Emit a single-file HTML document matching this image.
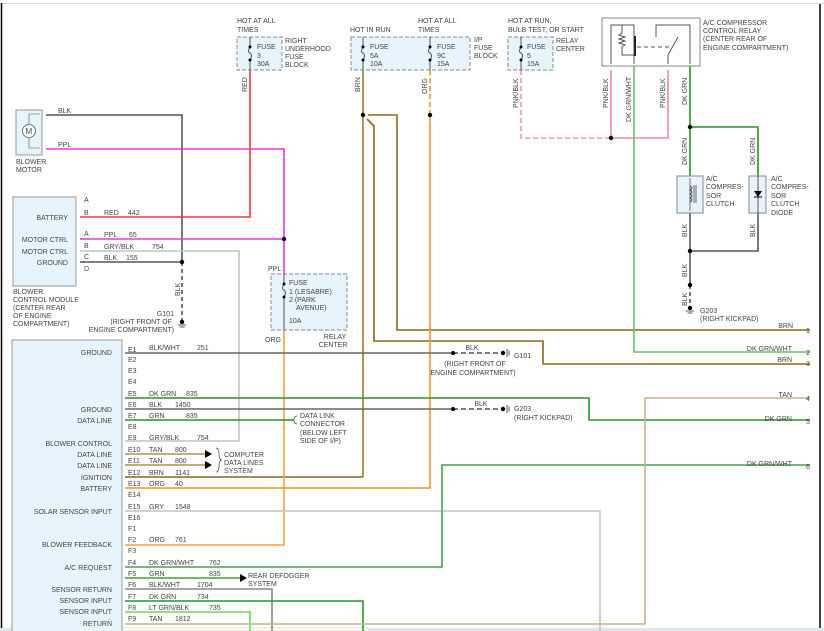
<!DOCTYPE html>
<html><head><meta charset="utf-8"><style>
html,body{margin:0;padding:0;background:#fff;}
svg{display:block;}
text{font-family:"Liberation Sans",sans-serif;font-size:7px;fill:#444;}
</style></head><body>
<svg width="824" height="631" viewBox="0 0 824 631" xmlns="http://www.w3.org/2000/svg">
<!-- frame -->
<line x1="0" y1="3.5" x2="824" y2="3.5" stroke="#ddd" stroke-width="1"/>
<line x1="1.5" y1="3" x2="1.5" y2="631" stroke="#000" stroke-width="1.5"/>
<line x1="820" y1="4" x2="820" y2="629" stroke="#000" stroke-width="1.5"/>
<rect x="0" y="628" width="824" height="3" fill="#dfe6ee"/>
<rect x="25" y="628" width="343" height="3" fill="#fff" stroke="#ccc" stroke-width="0.5"/>

<g fill="none" stroke-width="1.6">
<!-- blower motor wires -->
<polyline points="46,115 182,115 182,262" stroke="#555"/>
<line x1="182" y1="262" x2="182" y2="320" stroke="#555" stroke-dasharray="4,3"/>
<polyline points="46,149 284,149 284,274" stroke="#ee33ee"/>
<!-- BCM -->
<polyline points="80,217 250,217 250,70" stroke="#f03838"/>
<line x1="80" y1="239" x2="284" y2="239" stroke="#ee33ee"/>
<polyline points="80,251 239,251 239,441 125,441" stroke="#c4c4c4"/>
<line x1="80" y1="262" x2="182" y2="262" stroke="#555"/>
<!-- BRN -->
<line x1="363" y1="70" x2="363" y2="477" stroke="#9a7a30"/>
<polyline points="368,115 397,115 397,330 810,330" stroke="#8b6914"/>
<polyline points="367,119 374,126 374,341 543,341 543,364 810,364" stroke="#8b6914"/>
<line x1="125" y1="477" x2="363" y2="477" stroke="#8b6914"/>
<!-- ORG -->
<line x1="430" y1="70" x2="430" y2="115" stroke="#f7941d" stroke-dasharray="5,3"/>
<polyline points="430,115 430,488 125,488" stroke="#f7941d"/>
<polyline points="284,330 284,545 125,545" stroke="#f7a040"/>
<!-- pink -->
<polyline points="521,70 521,138 611,138" stroke="#f59aaa" stroke-dasharray="5,3"/>
<polyline points="611,70 611,138 668,138 668,70" stroke="#f08aa0"/>
<!-- DK GRN/WHT relay -->
<polyline points="634,66 634,352 810,352" stroke="#6cbf6c"/>
<!-- DK GRN relay -->
<line x1="690" y1="66" x2="690" y2="176" stroke="#229922"/>
<polyline points="690,127 758,127 758,176" stroke="#229922"/>
<line x1="690" y1="213" x2="690" y2="285" stroke="#555"/>
<polyline points="758,213 758,251 690,251" stroke="#555"/>
<line x1="690" y1="285" x2="690" y2="306" stroke="#555" stroke-dasharray="4,3"/>
<!-- E1 -->
<line x1="125" y1="353" x2="453" y2="353" stroke="#666"/>
<line x1="453" y1="353" x2="503" y2="353" stroke="#555" stroke-dasharray="5,3"/>
<!-- E5 -->
<polyline points="125,398 589,398 589,420 810,420" stroke="#229922"/>
<!-- E6 -->
<line x1="125" y1="409" x2="453" y2="409" stroke="#666"/>
<line x1="453" y1="409" x2="503" y2="409" stroke="#555" stroke-dasharray="5,3"/>
<!-- E7 -->
<line x1="125" y1="420" x2="294" y2="420" stroke="#229922"/>
<!-- E10 E11 -->
<line x1="125" y1="454" x2="205" y2="454" stroke="#a8905a"/>
<line x1="125" y1="465" x2="205" y2="465" stroke="#a8905a"/>
<!-- E15 -->
<polyline points="125,511 600,511 600,631" stroke="#c4c4c4"/>
<!-- F4 -->
<polyline points="125,567 442,567 442,465 810,465" stroke="#4aa04a"/>
<!-- F5 -->
<line x1="125" y1="578" x2="240" y2="578" stroke="#33aa33"/>
<!-- F6 -->
<polyline points="125,589 272,589 272,631" stroke="#888"/>
<!-- F7 -->
<polyline points="125,601 363,601 363,631" stroke="#229922"/>
<!-- F8 -->
<polyline points="125,612 250,612 250,631" stroke="#66dd55"/>
<!-- F9 -->
<polyline points="125,624 645,624 645,398 810,398" stroke="#c8b48a"/>
</g>

<!-- arrows -->
<polygon points="205,450 212,454 205,458" fill="#000"/>
<polygon points="205,461 212,465 205,469" fill="#000"/>
<polygon points="240,574 247,578 240,582" fill="#000"/>
<path d="M216,448 q3,0 3,6 q0,6 3,6 q-3,0 -3,6 q0,6 -3,6" fill="none" stroke="#444" stroke-width="0.7"/>
<path d="M297,416 q-3,0 -3,4 q0,4 3,4" fill="none" stroke="#444" stroke-width="0.7"/>

<!-- junction dots -->
<g fill="#000">
<circle cx="284" cy="239" r="2.2"/><circle cx="182" cy="262" r="2.2"/>
<circle cx="363" cy="115" r="2.2"/><circle cx="430" cy="115" r="2.2"/>
<circle cx="611" cy="138" r="2.2"/><circle cx="690" cy="127" r="2.2"/>
<circle cx="690" cy="251" r="2.2"/><circle cx="690" cy="285" r="2.2"/>
<circle cx="453" cy="353" r="2"/><circle cx="503" cy="353" r="2.2"/>
<circle cx="453" cy="409" r="2"/><circle cx="503" cy="409" r="2.2"/>
<circle cx="182" cy="322" r="2.2"/><circle cx="690" cy="308" r="2.2"/>
</g>
<!-- ground symbols -->
<g stroke="#333" stroke-width="0.8">
<line x1="178" y1="325" x2="186" y2="325"/><line x1="179.5" y1="327" x2="184.5" y2="327"/>
<line x1="686" y1="311" x2="694" y2="311"/><line x1="687.5" y1="313" x2="692.5" y2="313"/>
<line x1="507" y1="349" x2="507" y2="357"/><line x1="509" y1="350.5" x2="509" y2="355.5"/>
<line x1="507" y1="405" x2="507" y2="413"/><line x1="509" y1="406.5" x2="509" y2="411.5"/>
</g>

<!-- boxes -->
<rect x="16" y="110" width="26" height="45" fill="#e8f4fc" stroke="#999"/>
<circle cx="29" cy="131" r="6.5" fill="#fff" stroke="#555" stroke-width="0.8"/>
<text x="25.5" y="134" style="font-size:8px">M</text>
<polyline points="29,124 29,114 40,114" fill="none" stroke="#555" stroke-width="0.6"/>
<polyline points="29,138 29,148 40,148" fill="none" stroke="#555" stroke-width="0.6"/>
<rect x="13" y="197" width="63" height="89" fill="#e8f4fc" stroke="#999"/>
<rect x="12" y="340" width="110" height="292" fill="#e8f4fc" stroke="#999"/>
<rect x="237" y="37" width="45" height="33" fill="#e8f4fc" stroke="#888" stroke-dasharray="4,2"/>
<rect x="351" y="37" width="119" height="33" fill="#e8f4fc" stroke="#888" stroke-dasharray="4,2"/>
<rect x="508" y="37" width="45" height="33" fill="#e8f4fc" stroke="#888" stroke-dasharray="4,2"/>
<rect x="271" y="274" width="76" height="56" fill="#e8f4fc" stroke="#888" stroke-dasharray="4,2"/>
<rect x="602" y="18" width="98" height="48" fill="#fff" stroke="#888"/>
<rect x="677" y="176" width="26" height="37" fill="#e8f4fc" stroke="#888"/>
<rect x="749" y="176" width="17" height="37" fill="#e8f4fc" stroke="#888"/>
<line x1="758" y1="176" x2="758" y2="213" stroke="#333" stroke-width="0.8"/>
<polygon points="754,191 762,191 758,197" fill="#000"/><line x1="754" y1="197" x2="762" y2="197" stroke="#000"/>
<line x1="690" y1="178" x2="690" y2="211" stroke="#555" stroke-width="0.8"/>
<path d="M690,186 q4,2 0,4 q4,2 0,4 q4,2 0,4 q4,2 0,4" fill="none" stroke="#333" stroke-width="0.8"/>
<line x1="694" y1="185" x2="694" y2="203" stroke="#333" stroke-width="0.7"/>
<line x1="696" y1="185" x2="696" y2="203" stroke="#333" stroke-width="0.7"/>

<!-- fuse internals -->
<g stroke="#555" stroke-width="1" fill="none">
<line x1="250" y1="37" x2="250" y2="47"/><path d="M250,47 q-3,5 0,6 q3,2 0,7"/><line x1="250" y1="60" x2="250" y2="70"/>
<line x1="363" y1="37" x2="363" y2="47"/><path d="M363,47 q-3,5 0,6 q3,2 0,7"/><line x1="363" y1="60" x2="363" y2="70"/>
<line x1="430" y1="37" x2="430" y2="47"/><path d="M430,47 q-3,5 0,6 q3,2 0,7"/><line x1="430" y1="60" x2="430" y2="70"/>
<line x1="521" y1="37" x2="521" y2="47"/><path d="M521,47 q-3,5 0,6 q3,2 0,7"/><line x1="521" y1="60" x2="521" y2="70"/>
<line x1="284" y1="274" x2="284" y2="284"/><path d="M284,284 q-3,5 0,6 q3,2 0,7"/><line x1="284" y1="297" x2="284" y2="330"/>
<!-- relay internals -->
<polyline points="611,64 611,25 634,25 634,64"/>
<path d="M622,25 v8 l-3,2 6,2 -6,2 6,2 -6,2 6,2 -3,2 v8 h12"/>
<line x1="635" y1="36" x2="635" y2="56" stroke="#222" stroke-width="2"/>
<line x1="637" y1="47" x2="672" y2="47" stroke-dasharray="4,3"/>
<polyline points="668,64 668,55 678,37"/>
<polyline points="656,37 656,25 690,25 690,64"/>
</g>
<g fill="#000">
<circle cx="250" cy="47" r="1.5"/><circle cx="250" cy="60" r="1.5"/>
<circle cx="363" cy="47" r="1.5"/><circle cx="363" cy="60" r="1.5"/>
<circle cx="430" cy="47" r="1.5"/><circle cx="430" cy="60" r="1.5"/>
<circle cx="521" cy="47" r="1.5"/><circle cx="521" cy="60" r="1.5"/>
<circle cx="284" cy="284" r="1.5"/><circle cx="284" cy="297" r="1.5"/>
</g>

<!-- texts -->
<text x="58" y="113">BLK</text><text x="58" y="147">PPL</text>
<text x="16" y="164">BLOWER</text><text x="16" y="172">MOTOR</text>
<text x="84" y="202">A</text><text x="84" y="215">B</text><text x="84" y="236">A</text><text x="84" y="248">B</text><text x="84" y="259">C</text><text x="84" y="271">D</text>
<text x="68" y="220" text-anchor="end">BATTERY</text>
<text x="68" y="242" text-anchor="end">MOTOR CTRL</text>
<text x="68" y="254" text-anchor="end">MOTOR CTRL</text>
<text x="68" y="265" text-anchor="end">GROUND</text>
<text x="104" y="215">RED</text><text x="128" y="215">442</text>
<text x="104" y="237">PPL</text><text x="129" y="237">65</text>
<text x="104" y="249">GRY/BLK</text><text x="152" y="249">754</text>
<text x="104" y="260">BLK</text><text x="126" y="260">155</text>
<text x="13" y="294">BLOWER</text><text x="13" y="302">CONTROL MODULE</text><text x="13" y="310">(CENTER REAR</text><text x="13" y="318">OF ENGINE</text><text x="13" y="326">COMPARTMENT)</text>
<text x="174" y="316" text-anchor="end">G101</text><text x="172" y="324" text-anchor="end">(RIGHT FRONT OF</text><text x="174" y="332" text-anchor="end">ENGINE COMPARTMENT)</text>
<text transform="translate(180,296) rotate(-90)">BLK</text>
<text x="237" y="23">HOT AT ALL</text><text x="237" y="32">TIMES</text>
<text x="257" y="49">FUSE</text><text x="257" y="58">3</text><text x="257" y="66">30A</text>
<text x="285" y="43">RIGHT</text><text x="285" y="51">UNDERHOOD</text><text x="285" y="59">FUSE</text><text x="285" y="67">BLOCK</text>
<text transform="translate(247,92) rotate(-90)">RED</text>
<text x="350" y="32">HOT IN RUN</text>
<text x="418" y="23">HOT AT ALL</text><text x="418" y="32">TIMES</text>
<text x="370" y="49">FUSE</text><text x="370" y="58">5A</text><text x="370" y="66">10A</text>
<text x="437" y="49">FUSE</text><text x="437" y="58">9C</text><text x="437" y="66">15A</text>
<text x="474" y="42">I/P</text><text x="474" y="50">FUSE</text><text x="474" y="58">BLOCK</text>
<text transform="translate(360,92) rotate(-90)">BRN</text>
<text transform="translate(427,94) rotate(-90)">ORG</text>
<text x="508" y="23">HOT AT RUN,</text><text x="508" y="32">BULB TEST, OR START</text>
<text x="527" y="49">FUSE</text><text x="527" y="58">5</text><text x="527" y="66">15A</text>
<text x="556" y="43">RELAY</text><text x="556" y="51">CENTER</text>
<text transform="translate(518,108) rotate(-90)">PNK/BLK</text>
<text x="703" y="25">A/C COMPRESSOR</text><text x="703" y="33">CONTROL RELAY</text><text x="703" y="41">(CENTER REAR OF</text><text x="703" y="50">ENGINE COMPARTMENT)</text>
<text transform="translate(608,108) rotate(-90)">PNK/BLK</text>
<text transform="translate(631,122) rotate(-90)">DK GRN/WHT</text>
<text transform="translate(665,108) rotate(-90)">PNK/BLK</text>
<text transform="translate(687,105) rotate(-90)">DK GRN</text>
<text transform="translate(687,165) rotate(-90)">DK GRN</text>
<text transform="translate(755,165) rotate(-90)">DK GRN</text>
<text x="706" y="181">A/C</text><text x="706" y="189">COMPRES-</text><text x="706" y="198">SOR</text><text x="706" y="206">CLUTCH</text>
<text x="771" y="181">A/C</text><text x="771" y="189">COMPRES-</text><text x="771" y="198">SOR</text><text x="771" y="206">CLUTCH</text><text x="771" y="215">DIODE</text>
<text transform="translate(687,237) rotate(-90)">BLK</text>
<text transform="translate(755,237) rotate(-90)">BLK</text>
<text transform="translate(687,277) rotate(-90)">BLK</text>
<text transform="translate(687,306) rotate(-90)">BLK</text>
<text x="700" y="313">G203</text><text x="700" y="321">(RIGHT KICKPAD)</text>
<text x="268" y="271">PPL</text>
<text x="289" y="285">FUSE</text><text x="289" y="294">1 (LESABRE)</text><text x="289" y="302">2 (PARK</text><text x="296" y="310">AVENUE)</text><text x="289" y="323">10A</text>
<text x="265" y="342">ORG</text>
<text x="335" y="339" text-anchor="middle">RELAY</text><text x="333" y="347" text-anchor="middle">CENTER</text>
<!-- right labels -->
<text x="791" y="328" text-anchor="end" dx="2">BRN</text><text x="806" y="333">1</text>
<text x="792" y="351" text-anchor="end">DK GRN/WHT</text><text x="806" y="355">2</text>
<text x="792" y="362" text-anchor="end">BRN</text><text x="806" y="366">3</text>
<text x="792" y="397" text-anchor="end">TAN</text><text x="806" y="401">4</text>
<text x="792" y="421" text-anchor="end">DK GRN</text><text x="806" y="424">5</text>
<text x="792" y="466" text-anchor="end">DK GRN/WHT</text><text x="806" y="469">6</text>
<!-- grounds right -->
<text x="472" y="350" text-anchor="middle">BLK</text>
<text x="514" y="358">G101</text><text x="475" y="366" text-anchor="middle">(RIGHT FRONT OF</text><text x="473" y="375" text-anchor="middle">ENGINE COMPARTMENT)</text>
<text x="481" y="406" text-anchor="middle">BLK</text>
<text x="514" y="411">G203</text><text x="514" y="420">(RIGHT KICKPAD)</text>
<text x="300" y="418">DATA LINK</text><text x="300" y="426">CONNECTOR</text><text x="300" y="435">(BELOW LEFT</text><text x="300" y="443">SIDE OF I/P)</text>
<text x="224" y="457">COMPUTER</text><text x="224" y="465">DATA LINES</text><text x="224" y="473">SYSTEM</text>
<text x="248" y="578">REAR DEFOGGER</text><text x="248" y="586">SYSTEM</text>
<!-- module left labels -->
<g text-anchor="end">
<text x="112" y="355">GROUND</text><text x="112" y="412">GROUND</text><text x="112" y="423">DATA LINE</text>
<text x="112" y="446">BLOWER CONTROL</text><text x="112" y="457">DATA LINE</text><text x="112" y="468">DATA LINE</text>
<text x="112" y="480">IGNITION</text><text x="112" y="491">BATTERY</text><text x="112" y="514">SOLAR SENSOR INPUT</text>
<text x="112" y="547">BLOWER FEEDBACK</text><text x="112" y="570">A/C REQUEST</text>
<text x="112" y="592">SENSOR RETURN</text><text x="112" y="603">SENSOR INPUT</text><text x="112" y="614">SENSOR INPUT</text><text x="112" y="626">RETURN</text>
</g>
<!-- pins -->
<g>
<text x="128" y="352">E1</text><text x="128" y="362">E2</text><text x="128" y="373">E3</text><text x="128" y="384">E4</text>
<text x="128" y="396">E5</text><text x="128" y="407">E6</text><text x="128" y="418">E7</text><text x="128" y="429">E8</text>
<text x="128" y="440">E9</text><text x="128" y="452">E10</text><text x="128" y="463">E11</text><text x="128" y="475">E12</text>
<text x="128" y="486">E13</text><text x="128" y="497">E14</text><text x="128" y="509">E15</text><text x="128" y="520">E16</text>
<text x="128" y="531">F1</text><text x="128" y="542">F2</text><text x="128" y="553">F3</text><text x="128" y="565">F4</text>
<text x="128" y="576">F5</text><text x="128" y="587">F6</text><text x="128" y="599">F7</text><text x="128" y="610">F8</text><text x="128" y="621">F9</text>
</g>
<text x="149" y="350">BLK/WHT</text><text x="197" y="350">251</text>
<text x="149" y="396">DK GRN</text><text x="186" y="396">835</text>
<text x="149" y="407">BLK</text><text x="175" y="407">1450</text>
<text x="149" y="418">GRN</text><text x="186" y="418">835</text>
<text x="149" y="440">GRY/BLK</text><text x="197" y="440">754</text>
<text x="149" y="452">TAN</text><text x="175" y="452">800</text>
<text x="149" y="463">TAN</text><text x="175" y="463">800</text>
<text x="149" y="475">BRN</text><text x="175" y="475">1141</text>
<text x="149" y="486">ORG</text><text x="175" y="486">40</text>
<text x="149" y="509">GRY</text><text x="175" y="509">1548</text>
<text x="149" y="542">ORG</text><text x="175" y="542">761</text>
<text x="149" y="565">DK GRN/WHT</text><text x="209" y="565">762</text>
<text x="149" y="576">GRN</text><text x="209" y="576">835</text>
<text x="149" y="587">BLK/WHT</text><text x="197" y="587">1704</text>
<text x="149" y="599">DK GRN</text><text x="197" y="599">734</text>
<text x="149" y="610">LT GRN/BLK</text><text x="209" y="610">735</text>
<text x="149" y="621">TAN</text><text x="175" y="621">1812</text>
</svg>
</body></html>
